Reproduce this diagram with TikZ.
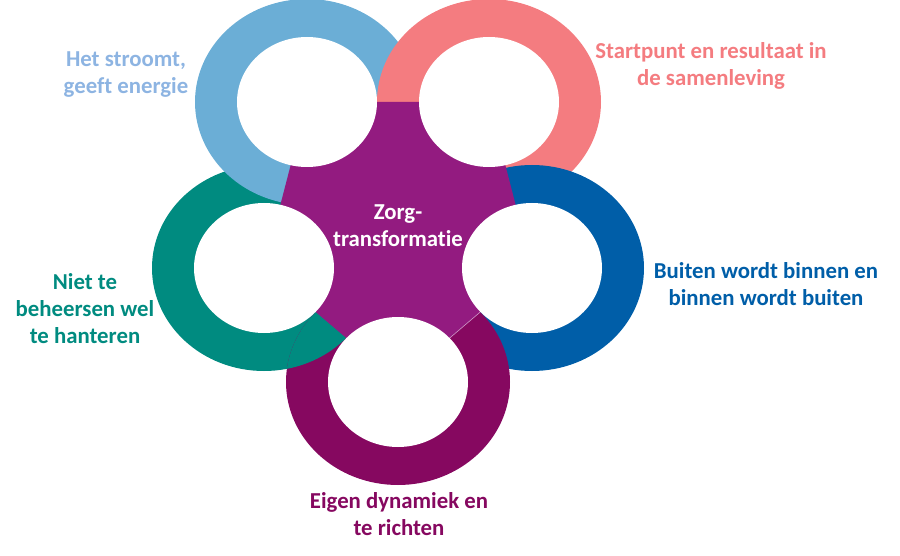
\documentclass[tikz,border=0pt]{standalone}
\usepackage{fontspec}
\setmainfont{Carlito}[Ligatures=NoCommon]
\usepackage{tikz}
\definecolor{ringlb}{RGB}{107,174,214}
\definecolor{textlb}{RGB}{141,180,226}
\definecolor{ringpk}{RGB}{244,124,128}
\definecolor{ringbl}{RGB}{0,94,168}
\definecolor{ringmg}{RGB}{134,8,96}
\definecolor{ringtl}{RGB}{0,139,128}
\definecolor{kern}{RGB}{147,27,128}

\begin{document}
\begin{tikzpicture}[x=1pt, y=-1pt,
    ringout/.style={x radius=112pt, y radius=103pt},
    ringin/.style={x radius=70pt, y radius=65pt},
    lbl/.style={align=center, font=\fontsize{22.8}{27}\selectfont\bfseries}]
\useasboundingbox (0,0) rectangle (900,556);
% ring centres
\coordinate (lb) at (307,102);
\coordinate (pk) at (489,102);
\coordinate (bl) at (532,268);
\coordinate (mg) at (398,382);
\coordinate (tl) at (264,268);
% rings, each over the next
\fill[ringtl] (tl) ellipse [ringout];
\fill[ringlb] (lb) ellipse [ringout];
\fill[ringpk] (pk) ellipse [ringout];
\fill[ringbl] (bl) ellipse [ringout];
\fill[ringmg] (mg) ellipse [ringout];
\begin{scope}
  \clip (mg) ellipse [ringout];
  \fill[ringtl] (tl) ellipse [ringout];
\end{scope}
% centre
\fill[kern] (lb) -- (pk) -- (bl) -- (mg) -- (tl) -- cycle;
\begin{scope}
  \clip (mg) ellipse [ringout];
  \draw[kern!45!white, line width=0.6pt] (mg) -- (bl);
\end{scope}
\foreach \c in {lb,pk,bl,mg,tl}
  \fill[white] (\c) ellipse [ringin];
\node[lbl, text=white] (zorg) at (398,226) {Zorg-\\transformatie};
\node[lbl, text=textlb] (stroom) at (126,75) {Het stroomt,\\geeft energie};
\node[lbl, text=ringpk] (start) at (711,66) {Startpunt en resultaat in\\de samenleving};
\node[lbl, text=ringbl] (buiten) at (766,284) {Buiten wordt binnen en\\binnen wordt buiten};
\node[lbl, text=ringmg] (eigen) at (399,514) {Eigen dynamiek en\\te richten};
\node[lbl, text=ringtl] (niet) at (85,309) {Niet te\\beheersen wel\\te hanteren};
\end{tikzpicture}
\end{document}
